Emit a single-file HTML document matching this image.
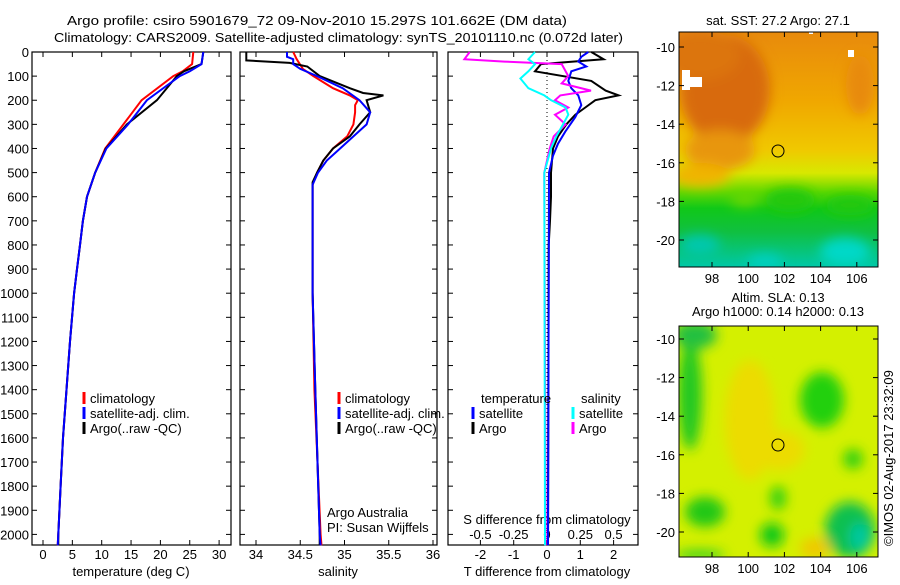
<!DOCTYPE html>
<html><head><meta charset="utf-8">
<style>
html,body{margin:0;padding:0;background:#fff;}
svg text{font-family:"Liberation Sans",sans-serif;font-size:13px;fill:#000;}
</style></head>
<body>
<svg id="chart" width="900" height="580" viewBox="0 0 900 580" xmlns="http://www.w3.org/2000/svg">
<defs>
<clipPath id="clipMap1"><rect x="679" y="32" width="199" height="235"/></clipPath>
<clipPath id="clipMap2"><rect x="679" y="326" width="199" height="231"/></clipPath>
<filter id="blur6"><feGaussianBlur stdDeviation="6"/></filter>
<filter id="blur4"><feGaussianBlur stdDeviation="4"/></filter>
<linearGradient id="sstGrad" x1="0" y1="0" x2="0" y2="1">
<stop offset="0" stop-color="#e88a0c"/>
<stop offset="0.3" stop-color="#f0a800"/>
<stop offset="0.5" stop-color="#f0c800"/>
<stop offset="0.6" stop-color="#d8e800"/>
<stop offset="0.68" stop-color="#60d800"/>
<stop offset="0.75" stop-color="#10c818"/>
<stop offset="0.85" stop-color="#10c040"/>
<stop offset="1" stop-color="#00c8a8"/>
</linearGradient>
</defs>
<g id="titles">
<text x="67" y="25" textLength="500" lengthAdjust="spacingAndGlyphs" font-size="14">Argo profile: csiro 5901679_72 09-Nov-2010 15.297S 101.662E (DM data)</text>
<text x="54" y="42" textLength="569" lengthAdjust="spacingAndGlyphs" font-size="14">Climatology: CARS2009. Satellite-adjusted climatology: synTS_20101110.nc (0.072d later)</text>
</g>
<g id="panels"></g>
<g id="maps">
<text x="778" y="25" text-anchor="middle">sat. SST: 27.2 Argo: 27.1</text>
<g clip-path="url(#clipMap1)">
<rect x="679" y="32" width="199" height="235" fill="url(#sstGrad)"/>
<g filter="url(#blur6)">
<ellipse cx="725" cy="90" rx="45" ry="55" fill="#d86a08"/>
<ellipse cx="700" cy="55" rx="40" ry="25" fill="#dc7408"/>
<ellipse cx="860" cy="85" rx="14" ry="30" fill="#e88a0c"/>
<ellipse cx="720" cy="150" rx="35" ry="20" fill="#e8960a"/>
<ellipse cx="700" cy="175" rx="30" ry="12" fill="#f0b400"/>
<ellipse cx="790" cy="200" rx="25" ry="12" fill="#20c810"/>
<ellipse cx="745" cy="200" rx="15" ry="6" fill="#70d800"/>
<ellipse cx="850" cy="205" rx="25" ry="10" fill="#20c810"/>
<ellipse cx="845" cy="252" rx="25" ry="14" fill="#00d8c8"/>
<ellipse cx="765" cy="262" rx="18" ry="8" fill="#00d0c0"/>
<ellipse cx="700" cy="245" rx="20" ry="10" fill="#00c8b0"/>
</g>
<rect x="682" y="70" width="8" height="20" fill="#fff"/>
<rect x="690" y="77" width="12" height="10" fill="#fff"/>
<rect x="848" y="50" width="6" height="7" fill="#fff"/>
<rect x="809" y="32" width="4" height="2" fill="#fff"/>
</g>
<rect x="679" y="32" width="199" height="235" fill="none" stroke="#000"/>
<circle cx="778" cy="151" r="6" fill="none" stroke="#000"/>
<text x="778" y="302" text-anchor="middle">Altim. SLA: 0.13</text>
<text x="778" y="316" text-anchor="middle">Argo h1000: 0.14 h2000: 0.13</text>
<g clip-path="url(#clipMap2)">
<rect x="679" y="326" width="199" height="231" fill="#d4f000"/>
<g filter="url(#blur6)">
<ellipse cx="750" cy="420" rx="25" ry="60" fill="#ecdc00"/>
<ellipse cx="780" cy="450" rx="25" ry="20" fill="#ecdc00"/>
<ellipse cx="690" cy="395" rx="12" ry="55" fill="#20c820"/>
<ellipse cx="695" cy="335" rx="22" ry="14" fill="#20c040"/>
<ellipse cx="822" cy="400" rx="22" ry="28" fill="#20d010"/>
<ellipse cx="853" cy="459" rx="10" ry="10" fill="#30d010"/>
<ellipse cx="705" cy="512" rx="20" ry="15" fill="#20c818"/>
<ellipse cx="778" cy="498" rx="8" ry="12" fill="#30d010"/>
<ellipse cx="772" cy="535" rx="12" ry="12" fill="#10c818"/>
<ellipse cx="850" cy="530" rx="25" ry="28" fill="#10c050"/>
<ellipse cx="860" cy="537" rx="10" ry="14" fill="#00c8a0"/>
<ellipse cx="815" cy="548" rx="15" ry="10" fill="#f0c800"/>
<ellipse cx="700" cy="555" rx="25" ry="5" fill="#30d020"/>
</g>
</g>
<rect x="679" y="326" width="199" height="231" fill="none" stroke="#000"/>
<circle cx="778" cy="445" r="6" fill="none" stroke="#000"/>
<text transform="translate(893,546) rotate(-90)" font-size="12">©IMOS 02-Aug-2017 23:32:09</text>
</g>
</svg>
<script>
// ---------- data ----------
const depthTicks = [0,100,200,300,400,500,600,700,800,900,1000,1100,1200,1300,1400,1500,1600,1700,1800,1900,2000];
const tempTicks = [0,5,10,15,20,25,30];
const salTicks = [34,34.5,35,35.5,36];
const tdiffTicks = [-2,-1,0,1,2];
const sdiffTicks = [-0.5,-0.25,0,0.25,0.5];

const tDepth = [0,50,80,100,200,300,400,500,600,700,800,900,1000,1200,1400,1600,1800,2000,2045];
const tClim = [25.6,25.4,23.8,22.2,16.8,13.7,10.6,8.9,7.5,6.8,6.3,5.8,5.3,4.6,4.0,3.4,3.0,2.6,2.5];
const tSat  = [27.3,27.0,25.0,23.3,17.7,14.5,10.8,8.9,7.5,6.8,6.3,5.8,5.3,4.6,4.0,3.4,3.0,2.6,2.5];
const tArgo = [27.3,27.0,24.0,22.8,19.4,14.3,10.7,8.9,7.5,6.8,6.3,5.8,5.3,4.6,4.0,3.4,3.0,2.6,2.6];

const sArgoD = [0,35,45,60,100,150,170,180,200,250,300,350,400,450,500,540,1000,1400,2000,2045];
const sArgo  = [33.89,33.89,34.38,34.58,34.72,35.06,35.21,35.44,35.25,35.29,35.17,35.06,34.87,34.76,34.69,34.64,34.64,34.67,34.72,34.72];
const sClimD = [0,30,70,100,150,180,200,220,250,300,350,400,450,500,550,1000,1400,2000,2045];
const sClim  = [34.42,34.46,34.53,34.65,34.87,35.06,35.15,35.12,35.12,35.10,35.03,34.87,34.76,34.69,34.64,34.64,34.66,34.73,34.74];
const sSatD  = [0,20,30,50,70,100,150,200,250,300,350,400,450,500,550,1000,1400,2000,2045];
const sSat   = [34.35,34.35,34.42,34.42,34.5,34.69,34.98,35.17,35.29,35.25,35.1,34.95,34.8,34.7,34.64,34.64,34.67,34.72,34.73];

const dTArgoD = [0,30,50,80,120,160,180,200,230,260,300,350,400,500,600,700,800,2045];
const dTArgo  = [1.33,1.7,-0.18,-0.36,1.33,1.76,2.15,1.45,1.15,0.85,0.58,0.33,0.18,0.12,0.12,0.09,0.05,0.03];
const dTSatD  = [0,20,40,60,80,120,150,180,220,270,330,380,430,500,2045];
const dTSat   = [1.24,1.03,0.94,1.18,0.73,0.64,0.73,0.94,1.03,0.85,0.55,0.33,0.18,0.06,0.03];
const dSArgoD = [0,30,40,50,100,130,160,180,200,230,260,300,350,400,500,2045];
const dSArgo  = [-0.58,-0.62,-0.32,0.11,0.16,0.11,0.33,0.10,0.06,0.16,0.06,0.14,0.05,0.02,-0.02,-0.01];
const dSSatD  = [0,30,50,80,110,150,180,200,230,260,300,350,400,500,2045];
const dSSat   = [-0.09,-0.14,-0.09,-0.14,-0.2,-0.14,-0.02,0.03,0.14,0.16,0.12,0.07,0.03,-0.02,-0.015];

const latTicks = [-10,-12,-14,-16,-18,-20];
const lonTicks = [98,100,102,104,106];

// ---------- scales ----------
const NS = "http://www.w3.org/2000/svg";
const top0 = 52, bot = 545;
const yD = d => top0 + d * 0.2412;
const xT = v => 43 + v * 5.87;
const xS = v => 256 + (v - 34) * 88.5;
const xDT = v => 547 + v * 33.3;
const xDS = v => 547 + v * 133.2;
const P = [{l:32,r:231},{l:240,r:437},{l:448,r:638}];
const g = document.getElementById('panels');

function el(tag, attrs, parent){
  const e = document.createElementNS(NS, tag);
  for (const k in attrs) e.setAttribute(k, attrs[k]);
  (parent||g).appendChild(e);
  return e;
}
function txt(x,y,s,anchor,parent){
  const t = el('text',{x:x,y:y,'text-anchor':anchor||'middle'},parent);
  t.textContent = s;
  return t;
}
function line(ds, vs, sx, color, name){
  const pts = ds.map((d,i)=> sx(vs[i]).toFixed(1)+','+yD(d).toFixed(1)).join(' ');
  const p = el('polyline',{points:pts,fill:'none',stroke:color,'stroke-width':2});
  
  
}

P.forEach((p,i)=>{
  const r = el('rect',{x:p.l,y:top0,width:p.r-p.l,height:bot-top0,fill:'none',stroke:'#000','stroke-width':1.2});
  
  
  depthTicks.forEach(d=>{
    el('line',{x1:p.l,x2:p.l+5,y1:yD(d),y2:yD(d),stroke:'#000'});
    el('line',{x1:p.r-5,x2:p.r,y1:yD(d),y2:yD(d),stroke:'#000'});
  });
});
depthTicks.forEach(d=>{
  const t = txt(29, yD(d)+5, String(d), 'end');
  
  
});

function xticks(ticks, sx, p, labelY){
  ticks.forEach(v=>{
    el('line',{x1:sx(v),x2:sx(v),y1:bot-5,y2:bot,stroke:'#000'});
    el('line',{x1:sx(v),x2:sx(v),y1:top0,y2:top0+5,stroke:'#000'});
    const t = txt(sx(v), labelY, String(v));
    
    
  });
}
xticks(tempTicks, xT, P[0], 559);
xticks(salTicks, xS, P[1], 559);
xticks(tdiffTicks, xDT, P[2], 559);
sdiffTicks.forEach(v=>{
  const t = txt(xDS(v), 539, String(v));
  
  
});
let at;
at = txt(131,576,'temperature (deg C)');  
at = txt(338,576,'salinity');  
at = txt(547,576,'T difference from climatology');  
at = txt(547,524,'S difference from climatology');  
at = txt(327,517,'Argo Australia','start');  
at = txt(327,532,'PI: Susan Wijffels','start');  

const zl = el('line',{x1:xDT(0),x2:xDT(0),y1:top0,y2:bot,stroke:'#000','stroke-dasharray':'1,3'});



line(tDepth, tClim, xT, '#ff0000', 'temp-climatology-line');
line(tDepth, tArgo, xT, '#000000', 'temp-argo-line');
line(tDepth, tSat, xT, '#0000ff', 'temp-satellite-line');
line(sClimD, sClim, xS, '#ff0000', 'sal-climatology-line');
line(sArgoD, sArgo, xS, '#000000', 'sal-argo-line');
line(sSatD, sSat, xS, '#0000ff', 'sal-satellite-line');
line(dTArgoD, dTArgo, xDT, '#000000', 't-diff-argo-line');
line(dTSatD, dTSat, xDT, '#0000ff', 't-diff-satellite-line');
line(dSArgoD, dSArgo, xDS, '#ff00ff', 's-diff-argo-line');
line(dSSatD, dSSat, xDS, '#00ffff', 's-diff-satellite-line');

function legend(x, y, color, label){
  const b = el('line',{x1:x,x2:x,y1:y-11,y2:y+1,stroke:color,'stroke-width':3});
  
  
  const t = txt(x+6, y, label, 'start');
  
  
}
[[84,339]].forEach(([a,b])=>{
  legend(a,403,'#ff0000','climatology');
  legend(a,418,'#0000ff','satellite-adj. clim.');
  legend(a,433,'#000000','Argo(..raw -QC)');
  legend(b,403,'#ff0000','climatology');
  legend(b,418,'#0000ff','satellite-adj. clim.');
  legend(b,433,'#000000','Argo(..raw -QC)');
});
at = txt(481,403,'temperature','start');  
at = txt(581,403,'salinity','start');  
legend(473,418,'#0000ff','satellite');
legend(473,433,'#000000','Argo');
legend(573,418,'#00ffff','satellite');
legend(573,433,'#ff00ff','Argo');

const mg = document.getElementById('maps');
function mapAxes(y0, y1, latY){
  latTicks.forEach(v=>{
    const y = latY(v);
    el('line',{x1:679,x2:684,y1:y,y2:y,stroke:'#000'},mg);
    el('line',{x1:873,x2:878,y1:y,y2:y,stroke:'#000'},mg);
    const t = txt(675, y+5, String(v), 'end', mg);
    
    
  });
  lonTicks.forEach(v=>{
    const x = 712 + (v-98)*18.1;
    el('line',{x1:x,x2:x,y1:y1-5,y2:y1,stroke:'#000'},mg);
    el('line',{x1:x,x2:x,y1:y0,y2:y0+5,stroke:'#000'},mg);
    const t = txt(x, y1+16, String(v), 'middle', mg);
    
    
  });
}
mapAxes(32, 267, v => 47 + (-10 - v) * 19.3);
mapAxes(326, 557, v => 339 + (-10 - v) * 19.3);
</script>
</body></html>
